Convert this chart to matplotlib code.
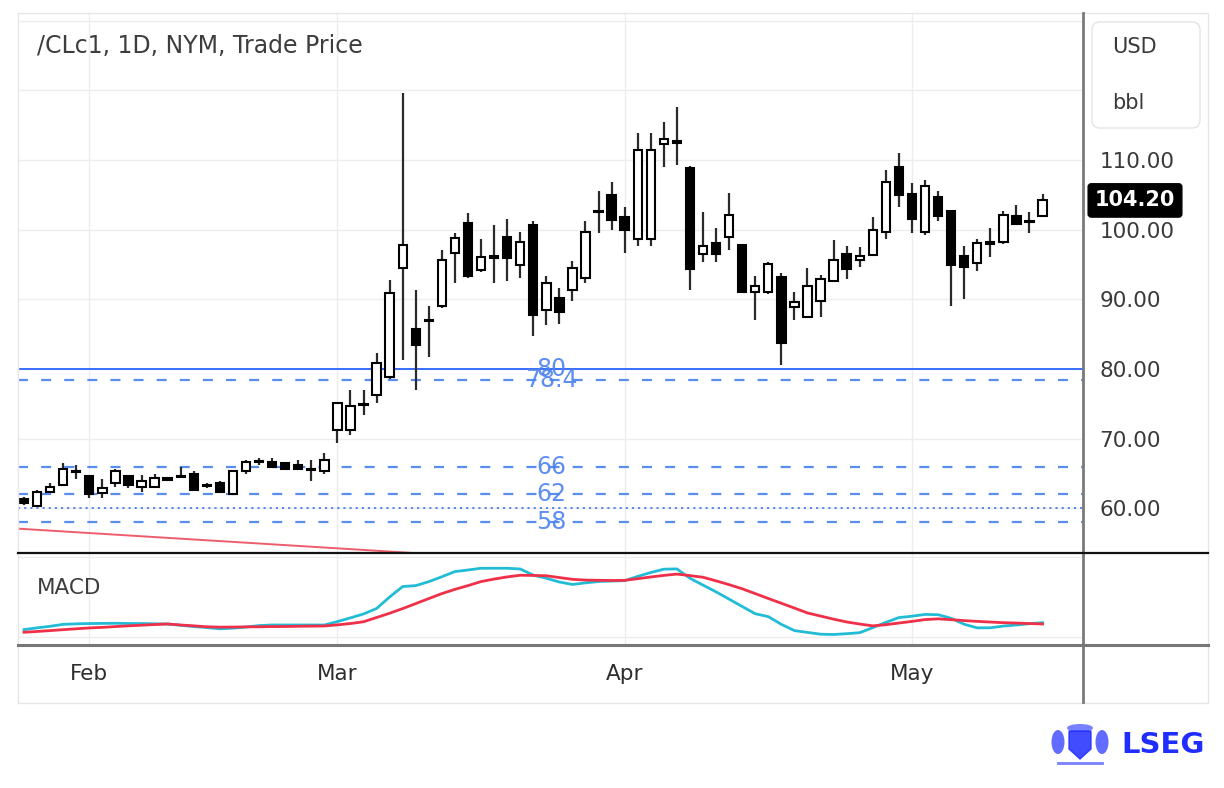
import matplotlib
matplotlib.use("Agg")
import matplotlib.pyplot as plt
from matplotlib.lines import Line2D
from matplotlib.patches import FancyBboxPatch, Polygon, Ellipse
from matplotlib.transforms import Affine2D, blended_transform_factory

W, H = 1224, 788

# daily candles
opens = [61.4, 60.4, 62.4, 63.4, 65.4, 64.6, 62.2, 63.7, 64.6, 63.1,
         63.1, 64.3, 64.7, 65.0, 63.4, 63.6, 62.1, 65.3, 66.6, 66.6,
         66.5, 66.3, 65.7, 65.3, 71.3, 71.2, 74.8, 76.3, 78.9, 94.5,
         85.8, 87.1, 89.0, 96.6, 100.9, 94.2, 96.0, 99.0, 94.9, 100.7,
         88.5, 90.2, 91.3, 93.0, 102.5, 105.0, 101.8, 98.6, 98.6, 112.3,
         112.7, 108.9, 96.5, 98.1, 99.0, 97.8, 91.1, 91.1, 93.2, 88.9,
         87.5, 89.8, 92.7, 96.5, 95.6, 96.4, 99.6, 109.0, 105.1, 99.6,
         104.7, 102.7, 96.2, 95.2, 98.0, 98.3, 102.0, 101.3, 101.9]
highs = [61.6, 62.6, 63.7, 66.5, 66.3, 64.8, 64.2, 65.6, 64.7, 64.8,
         65.0, 64.5, 65.9, 65.3, 63.6, 64.0, 65.5, 67.0, 67.2, 67.2,
         66.6, 66.9, 67.0, 67.9, 75.2, 77.0, 77.0, 82.3, 92.8, 119.6,
         91.3, 89.0, 97.1, 99.5, 102.4, 98.6, 100.7, 101.5, 99.6, 101.3,
         93.3, 91.6, 95.5, 101.2, 105.5, 106.9, 103.3, 113.9, 113.9, 115.5,
         117.6, 109.1, 102.6, 100.2, 105.3, 97.9, 93.3, 95.4, 93.8, 91.1,
         94.5, 93.5, 98.5, 97.7, 97.5, 101.8, 108.5, 111.0, 106.7, 107.2,
         105.5, 102.8, 97.7, 98.6, 100.2, 102.7, 103.5, 102.6, 105.1]
lows = [60.5, 60.2, 62.3, 63.3, 64.2, 61.5, 61.5, 63.1, 63.0, 62.4,
        62.9, 64.0, 64.5, 62.6, 62.9, 62.3, 62.0, 65.0, 66.2, 65.8,
        65.5, 65.5, 63.9, 65.0, 69.4, 70.5, 73.4, 75.1, 78.6, 81.3,
        77.0, 81.8, 88.8, 92.3, 93.0, 93.9, 92.3, 92.6, 93.1, 84.7,
        86.3, 86.5, 89.7, 92.3, 99.5, 100.0, 96.6, 97.7, 97.7, 109.0,
        109.3, 91.3, 95.3, 95.4, 97.1, 90.9, 87.0, 90.8, 80.6, 87.0,
        87.4, 87.5, 92.5, 92.9, 94.6, 96.3, 98.6, 103.3, 99.5, 99.2,
        101.3, 89.0, 90.0, 94.1, 96.1, 98.0, 100.7, 99.5, 101.8]
closes = [60.8, 62.4, 63.1, 65.6, 65.2, 62.1, 63.0, 65.3, 63.4, 63.9,
          64.4, 64.1, 64.5, 62.7, 63.2, 62.4, 65.3, 66.7, 66.8, 65.9,
          65.6, 65.6, 65.5, 67.0, 75.1, 74.7, 75.0, 80.9, 90.9, 97.8,
          83.5, 86.9, 95.7, 98.8, 93.3, 96.1, 96.2, 95.9, 98.3, 87.8,
          92.3, 88.2, 94.5, 99.7, 102.7, 101.4, 100.0, 111.5, 111.5, 113.0,
          112.5, 94.3, 97.7, 96.5, 102.1, 91.0, 91.9, 95.1, 83.7, 89.6,
          91.9, 92.9, 95.6, 94.3, 96.2, 100.0, 106.9, 105.0, 101.6, 106.3,
          101.9, 94.9, 94.7, 98.1, 98.2, 102.1, 100.8, 101.1, 104.2]

# MACD panel lines
macd_line = [0.33, 0.57, 0.79, 1.06, 1.13, 1.17, 1.19, 1.21, 1.18, 1.17,
             1.14, 1.11, 0.92, 0.75, 0.61, 0.44, 0.53, 0.68, 0.89, 0.97,
             0.97, 0.97, 0.97, 0.97, 1.44, 1.96, 2.50, 3.26, 4.86, 6.31,
             6.44, 6.99, 7.67, 8.39, 8.61, 8.85, 8.85, 8.85, 8.75, 7.90,
             7.46, 6.94, 6.60, 6.82, 7.01, 7.07, 7.13, 7.72, 8.26, 8.72,
             8.76, 7.46, 6.51, 5.57, 4.56, 3.54, 2.53, 2.13, 1.06, 0.19,
             -0.06, -0.31, -0.35, -0.24, -0.10, 0.60, 1.33, 2.00, 2.19, 2.44,
             2.40, 1.90, 1.07, 0.57, 0.58, 0.82, 0.97, 1.15, 1.29]
signal_line = [-0.04, 0.07, 0.19, 0.32, 0.44, 0.56, 0.64, 0.75, 0.85, 0.94,
               1.03, 1.11, 0.97, 0.85, 0.72, 0.67, 0.68, 0.71, 0.72, 0.75,
               0.76, 0.79, 0.81, 0.83, 0.99, 1.17, 1.42, 2.01, 2.60, 3.25,
               3.94, 4.64, 5.33, 5.92, 6.44, 7.00, 7.35, 7.65, 7.88, 7.85,
               7.81, 7.56, 7.31, 7.21, 7.18, 7.15, 7.17, 7.40, 7.64, 7.86,
               8.04, 7.83, 7.60, 7.10, 6.57, 6.00, 5.33, 4.65, 3.99, 3.32,
               2.64, 2.21, 1.78, 1.39, 1.10, 0.85, 1.01, 1.24, 1.47, 1.72,
               1.82, 1.71, 1.58, 1.47, 1.38, 1.29, 1.24, 1.17, 1.11]

month_pos = [5, 24, 46, 68]
month_names = ["Feb", "Mar", "Apr", "May"]

price_ticks = [60, 70, 80, 90, 100, 110, 120, 130]
solid_level = 80
dashed_levels = [78.4, 66, 62, 58]
dotted_level = 60
level_labels = ["80", "78.4", "66", "62", "58"]
level_values = [80, 78.4, 66, 62, 58]
trend_x = [-0.5, 35]
trend_y = [57.1, 53.0]

fig = plt.figure(figsize=(W / 100, H / 100), dpi=100)
# helper: place decorations in reference pixels (top-left origin)
pix = Affine2D().scale(1 / W, -1 / H).translate(0, 1) + fig.transFigure

L, R = 18, 1083
ax1 = fig.add_axes([L / W, 1 - 553 / H, (R - L) / W, (553 - 13) / H])
ax2 = fig.add_axes([L / W, 1 - 645 / H, (R - L) / W, (645 - 553) / H], sharex=ax1)

for ax in (ax1, ax2):
    for s in ax.spines.values():
        s.set_visible(False)
    ax.set_facecolor("none")

# price panel
ax1.set_xlim(-0.46, 81.1)
ax1.set_ylim(53.6, 131.1)
ax1.set_xticks(month_pos)
ax1.tick_params(axis="x", length=0, labelbottom=False)
ax1.yaxis.tick_right()
ax1.set_yticks(price_ticks)
ax1.set_yticklabels([f"{v:.2f}" if v <= 110 else "" for v in price_ticks])
ax1.tick_params(axis="y", length=0, pad=12, labelsize=15.5, labelcolor="#3a3a3a")
ax1.grid(True, color="#ededed", lw=1.0, zorder=0)

x = list(range(len(closes)))
ax1.vlines(x, lows, highs, color="#2a2a2a", lw=1.6, zorder=3)
for i in x:
    o, c = opens[i], closes[i]
    bottom = min(o, c)
    h = max(abs(c - o), 0.12)
    fc = "white" if c >= o else "black"
    ax1.bar(i, h, bottom=bottom, width=0.64, color=fc, edgecolor="black",
            linewidth=1.5, zorder=4)

ax1.axhline(solid_level, color="#2962ff", lw=1.3, zorder=2)
for lv in dashed_levels:
    ax1.axhline(lv, color="#5b8def", lw=1.6, dashes=(4.5, 5.9), zorder=2)
ax1.axhline(dotted_level, color="#4f7fe8", lw=1.3, dashes=(1.2, 2.2), zorder=2)
for t, v in zip(level_labels, level_values):
    ax1.text(40.4, v, t, color="#4d82f0", fontsize=17, ha="center", va="center",
             alpha=0.9, zorder=5)
ax1.plot(trend_x, trend_y, color="#ee5d6c", lw=1.4, zorder=2)

ax1.text(37, 46, "/CLc1, 1D, NYM, Trade Price", transform=pix, fontsize=17,
         color="#3d3d3d", va="center", ha="left")

# last price marker
bt = blended_transform_factory(ax1.transAxes, ax1.transData)
ax1.text((1135 - L) / (R - L), closes[-1], f"{closes[-1]:.2f}", transform=bt,
         color="white", fontsize=15, fontweight="bold", ha="center", va="center",
         zorder=10, clip_on=False,
         bbox=dict(boxstyle="round,pad=0.32,rounding_size=0.15", fc="black", ec="black"))

# MACD panel
ax2.set_ylim(-1.81, 10.97)
ax2.plot(x, macd_line, color="#22bcd6", lw=2.0, zorder=3)
ax2.plot(x, signal_line, color="#f03048", lw=2.0, zorder=4)
ax2.set_yticks([-0.7, 10.4])
ax2.tick_params(axis="y", length=0, labelleft=False, labelright=False)
ax2.set_xticks(month_pos)
ax2.set_xticklabels(month_names)
ax2.tick_params(axis="x", length=0, pad=14, labelsize=15.5, labelcolor="#2e2e2e")
ax2.grid(True, color="#ededed", lw=1.0, zorder=0)
ax2.text(37, 588, "MACD", transform=pix, fontsize=15.5, color="#3d3d3d",
         va="center", ha="left")

# frame and separators
fig.add_artist(Line2D([18, 1208, 1208, 18, 18], [13, 13, 703, 703, 13],
                      transform=pix, color="#e6e6e6", lw=1.0))
fig.add_artist(Line2D([1083, 1083], [13, 702], transform=pix, color="#7a7a7a", lw=2.0))
fig.add_artist(Line2D([18, 1208], [553, 553], transform=pix, color="#111111", lw=1.6))
fig.add_artist(Line2D([18, 1208], [645, 645], transform=pix, color="#777777", lw=2.2))

# unit box
fig.add_artist(FancyBboxPatch((1092, 22), 108, 106, transform=pix,
                              boxstyle="round,pad=0,rounding_size=8",
                              fc="white", ec="#e4e4e4", lw=1.0))
fig.text(1112, 47, "USD", transform=pix, fontsize=15, color="#3a3a3a", va="center")
fig.text(1112, 103, "bbl", transform=pix, fontsize=15, color="#3a3a3a", va="center")

# LSEG logo (rough crest + wordmark)
blue = "#1f2dff"
fig.add_artist(Polygon([(1069, 731), (1091, 731), (1091, 749), (1080, 759), (1069, 749)],
                       closed=True, transform=pix, fc=blue, ec=blue, alpha=0.85))
fig.add_artist(Ellipse((1058, 742), 13, 24, transform=pix, fc=blue, ec="none", alpha=0.7))
fig.add_artist(Ellipse((1102, 742), 13, 24, transform=pix, fc=blue, ec="none", alpha=0.7))
fig.add_artist(Ellipse((1080, 728), 26, 8, transform=pix, fc=blue, ec="none", alpha=0.6))
fig.add_artist(Line2D([1058, 1102], [763, 763], transform=pix, color=blue, lw=2, alpha=0.6))
fig.text(1121, 745, "LSEG", transform=pix, fontsize=21, fontweight="bold",
         color=blue, va="center", ha="left")

fig.savefig("out.png", dpi=100, facecolor="white")
